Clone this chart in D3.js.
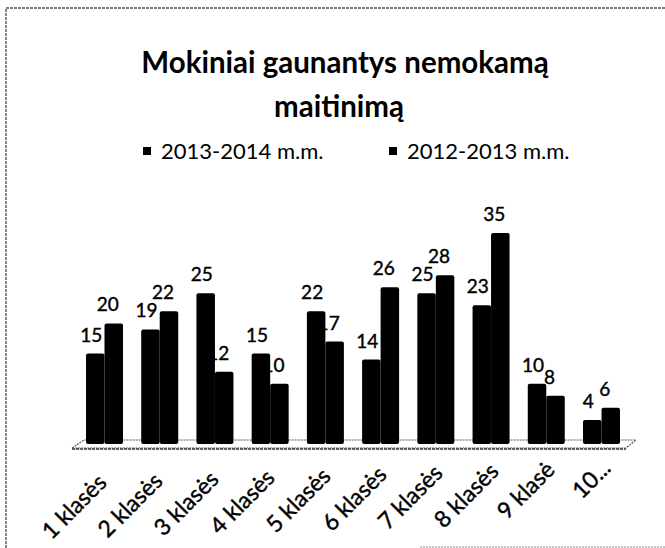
<!DOCTYPE html>
<html lang="lt">
<head>
	<meta charset="UTF-8">
	<title>Mokiniai gaunantys nemokamą maitinimą</title>
	<script src="https://d3js.org/d3.v7.min.js"></script>
	<style>
		body {
			margin: 0;
			background: #fff;
			overflow: hidden;
		}
		svg {
			display: block;
		}
		text {
			font-family: Lato, "Open Sans", Arial, sans-serif;
			fill: #000;
		}
	</style>
</head>
<body>
<div id="chart"></div>
<script>
	// data
	const categories = ["1 klasės", "2 klasės", "3 klasės", "4 klasės", "5 klasės",
		"6 klasės", "7 klasės", "8 klasės", "9 klasė", "10..."];
	const seriesNames = ["2013-2014 m.m.", "2012-2013 m.m."];
	const values2013 = [15, 19, 25, 15, 22, 14, 25, 23, 10, 4];
	const values2012 = [20, 22, 12, 10, 17, 26, 28, 35, 8, 6];
	const titleLines = ["Mokiniai gaunantys nemokamą", "maitinimą"];

	const sizeX = 665;
	const sizeY = 548;

	const svg = d3.create("svg")
		.attr("width", sizeX)
		.attr("height", sizeY);

	// outer frame of the chart (runs off the right and bottom of the scan)
	svg.append("rect")
		.attr("x", 6)
		.attr("y", 8)
		.attr("width", 720)
		.attr("height", 620)
		.attr("fill", "none")
		.attr("stroke", "#555")
		.attr("stroke-width", 1.4)
		.attr("stroke-dasharray", [3, 1]);

	// bit of another frame at the bottom right
	svg.append("line")
		.attr("x1", 420).attr("x2", sizeX)
		.attr("y1", 547).attr("y2", 547)
		.attr("stroke", "#888")
		.attr("stroke-width", 1)
		.attr("stroke-dasharray", [2, 1]);

	// Title
	const titleX = [345, 339];
	svg.append("text")
		.attr("y", 73)
		.attr("text-anchor", "middle")
		.style("font-size", "29.5px")
		.style("font-weight", "bold")
		.selectAll("tspan")
		.data(titleLines)
		.join("tspan")
		.attr("x", (d, i) => titleX[i])
		.attr("dy", (d, i) => i ? 44 : 0)
		.text(d => d);

	// Legend
	const legendX = [143, 389];
	seriesNames.forEach((name, i) => {
		const g = svg.append("g").attr("transform", `translate(${legendX[i]},159)`);
		g.append("rect")
			.attr("x", 0)
			.attr("y", -12)
			.attr("width", 8)
			.attr("height", 8)
			.attr("fill", "#000");
		g.append("text")
			.attr("x", 18)
			.attr("y", 0)
			.style("font-size", "22px")
			.text(name);
	});

	// Scales
	const x = d3.scalePoint()
		.domain(categories)
		.range([104, 601]);

	const xSub = d3.scaleBand()
		.domain(seriesNames)
		.range([-18, 19]);

	const y = d3.scaleLinear()
		.domain([0, 35])
		.range([444, 233]);

	// Floor of the 3D plot
	const floor = [[72, 448], [84, 440], [636, 440], [626, 448]];
	svg.append("path")
		.attr("d", d3.line()(floor) + "Z")
		.attr("fill", "none")
		.attr("stroke", "#555")
		.attr("stroke-width", 1.2)
		.attr("stroke-dasharray", [2, 1]);
	svg.append("line")
		.attr("x1", 72).attr("x2", 626)
		.attr("y1", 449).attr("y2", 449)
		.attr("stroke", "#333")
		.attr("stroke-width", 1.5)
		.attr("stroke-dasharray", [3, 1]);

	const series = [values2013, values2012];
	const labelShift = [-4, -6];

	// Bars (back series first)
	[1, 0].forEach(s => {
		svg.append("g")
			.selectAll("rect")
			.data(series[s])
			.join("rect")
			.attr("x", (d, i) => x(categories[i]) + xSub(seriesNames[s]))
			.attr("y", d => y(d))
			.attr("width", xSub.bandwidth())
			.attr("height", d => y(0) - y(d))
			.attr("rx", 2)
			.attr("fill", "#000");
	});

	// Value labels
	series.forEach((vals, s) => {
		svg.append("g")
			.selectAll("text")
			.data(vals)
			.join("text")
			.attr("x", (d, i) => x(categories[i]) + xSub(seriesNames[s]) + xSub.bandwidth() / 2 + labelShift[s])
			.attr("y", d => y(d) - 12)
			.attr("text-anchor", "middle")
			.attr("stroke", "#000")
			.attr("stroke-width", 0.4)
			.style("font-size", "19px")
			.text(d => d);
	});

	// Category labels, rotated (scan is slightly tilted)
	svg.append("g")
		.selectAll("text")
		.data(categories)
		.join("text")
		.attr("transform", (d, i) => `translate(${x(d) + 4 + i * 0.8},${484 - i * 1.6}) rotate(-45)`)
		.attr("text-anchor", "end")
		.attr("stroke", "#000")
		.attr("stroke-width", 0.4)
		.style("font-size", "23px")
		.text(d => d);

	document.getElementById("chart").append(svg.node());
</script>
</body>
</html>
